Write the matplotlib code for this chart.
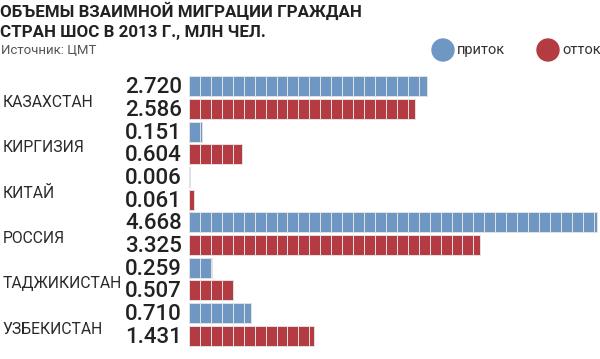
import numpy as np
import matplotlib
matplotlib.use("Agg")
import matplotlib.pyplot as plt
from matplotlib.patches import Circle

# data
countries = ["КАЗАХСТАН", "КИРГИЗИЯ", "КИТАЙ", "РОССИЯ", "ТАДЖИКИСТАН", "УЗБЕКИСТАН"]
inflow = [2.720, 0.151, 0.006, 4.668, 0.259, 0.710]
outflow = [2.586, 0.604, 0.061, 3.325, 0.507, 1.431]
series_names = ["приток", "отток"]

BLUE = "#6f97c4"
RED = "#b43b42"
SEG = 0.125  # one block of the bar

fig = plt.figure(figsize=(6, 3.59), dpi=100)
W, H = 600, 359

# bar area in pixel terms
x0, y_top, y_bot = 189, 75, 347
ax = fig.add_axes([x0 / W, (H - y_bot) / H, (W - x0) / W, (y_bot - y_top) / H])
px_per_unit = 87.5
ax.set_xlim(0, (W - x0) / px_per_unit)
nrows = 2 * len(countries)
ax.set_ylim(nrows - 0.5, -0.5)
ax.axis("off")

fam = ["Roboto", "DejaVu Sans"]

for i, name in enumerate(countries):
    for j, (val, col) in enumerate([(inflow[i], BLUE), (outflow[i], RED)]):
        y = 2 * i + j
        lefts = np.arange(0, val, SEG)
        widths = np.minimum(SEG, val - lefts)
        ax.barh([y] * len(lefts), widths, left=lefts, height=0.88,
                color=col, edgecolor="#e2e2e2", linewidth=0.7)
        ax.text(-0.08, y + 0.06, f"{val:.3f}", ha="right", va="center",
                fontsize=16, color="#222222", family=fam,
                fontweight="medium", clip_on=False)
    ax.text(-2.13, 2 * i + 0.72, name, ha="left", va="center", fontsize=11.3,
            color="#2a2a2a", family=fam, clip_on=False)

# title and source
fig.text(0, 1 - 11 / H, "ОБЪЕМЫ ВЗАИМНОЙ МИГРАЦИИ ГРАЖДАН", fontsize=12.2,
         fontweight="bold", color="#222222", family=fam, va="center")
fig.text(0, 1 - 32 / H, "СТРАН ШОС В 2013 Г., МЛН ЧЕЛ.", fontsize=12.2,
         fontweight="bold", color="#222222", family=fam, va="center")
fig.text(1 / W, 1 - 50 / H, "Источник: ЦМТ", fontsize=9.5, color="#555555",
         family=fam, va="center")

# legend
for cx, col, lab in [(443, BLUE, series_names[0]), (548, RED, series_names[1])]:
    fig.patches.append(Circle((cx, H - 50), 11, color=col,
                              transform=None, figure=fig))
    fig.text((cx + 14) / W, 1 - 50 / H, lab, fontsize=10.5, color="#333333",
             family=fam, va="center")

fig.savefig("out.png", dpi=100, facecolor="white")
